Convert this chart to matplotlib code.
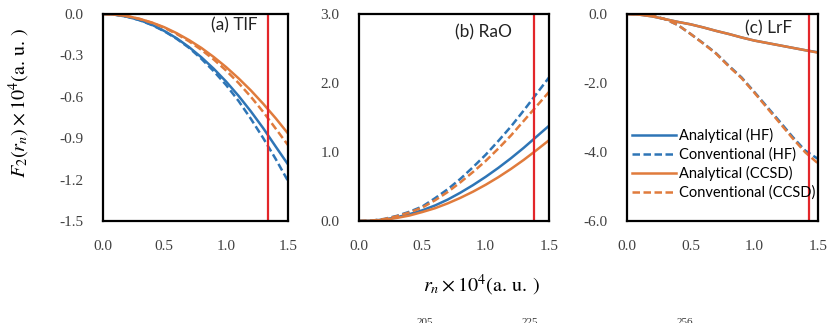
import matplotlib
matplotlib.use("Agg")
import matplotlib.pyplot as plt
from matplotlib.ticker import FuncFormatter, MultipleLocator

plt.rcParams['mathtext.fontset'] = 'stix'
plt.rcParams['axes.unicode_minus'] = False

# ====== Data ======
r = [0.0, 0.1, 0.2, 0.3, 0.4, 0.5, 0.6, 0.7, 0.8, 0.9, 1.0, 1.1, 1.2, 1.3, 1.4, 1.5]

# (a) TlF
tlf_ana_hf = [0, -0.005, -0.02, -0.044, -0.078, -0.123, -0.176, -0.24, -0.314, -0.397,
              -0.49, -0.593, -0.706, -0.828, -0.96, -1.09]
tlf_conv_hf = [0, -0.005, -0.02, -0.045, -0.08, -0.125, -0.18, -0.245, -0.325, -0.415,
               -0.515, -0.63, -0.76, -0.9, -1.05, -1.21]
tlf_ana_ccsd = [0, -0.004, -0.015, -0.035, -0.062, -0.096, -0.139, -0.189, -0.246, -0.312,
                -0.385, -0.466, -0.554, -0.651, -0.755, -0.866]
tlf_conv_ccsd = [0, -0.004, -0.016, -0.036, -0.064, -0.1, -0.145, -0.198, -0.26, -0.33,
                 -0.41, -0.5, -0.6, -0.71, -0.83, -0.95]

# (b) RaO
rao_ana_hf = [0, 0.004, 0.022, 0.055, 0.10, 0.155, 0.225, 0.31, 0.41, 0.52,
              0.64, 0.77, 0.91, 1.06, 1.22, 1.38]
rao_conv_hf = [0, 0.005, 0.03, 0.075, 0.135, 0.21, 0.33, 0.46, 0.61, 0.78,
               0.96, 1.16, 1.37, 1.60, 1.84, 2.08]
rao_ana_ccsd = [0, 0.003, 0.018, 0.045, 0.08, 0.13, 0.185, 0.255, 0.335, 0.425,
                0.525, 0.635, 0.755, 0.885, 1.025, 1.17]
rao_conv_ccsd = [0, 0.005, 0.028, 0.07, 0.125, 0.195, 0.30, 0.42, 0.56, 0.71,
                 0.87, 1.05, 1.24, 1.45, 1.66, 1.87]

# (c) LrF
lrf_ana_hf = [0, -0.02, -0.07, -0.15, -0.23, -0.30, -0.39, -0.49, -0.58, -0.68,
              -0.77, -0.84, -0.91, -0.98, -1.05, -1.11]
lrf_conv_hf = [0, -0.01, -0.05, -0.15, -0.32, -0.58, -0.85, -1.14, -1.50, -1.84,
               -2.26, -2.69, -3.12, -3.56, -3.96, -4.20]
lrf_ana_ccsd = [0, -0.02, -0.07, -0.15, -0.23, -0.30, -0.39, -0.49, -0.58, -0.68,
                -0.77, -0.84, -0.91, -0.98, -1.05, -1.12]
lrf_conv_ccsd = [0, -0.01, -0.05, -0.15, -0.32, -0.58, -0.86, -1.15, -1.52, -1.86,
                 -2.28, -2.72, -3.16, -3.60, -4.01, -4.33]

nuclear_radius = [1.34, 1.38, 1.43]
panel_titles = ['(a) TlF', '(b) RaO', '(c) LrF']
ylims = [(-1.5, 0.0), (0.0, 3.0), (-6.0, 0.0)]
ysteps = [0.3, 1.0, 2.0]
series_labels = ['Analytical (HF)', 'Conventional (HF)', 'Analytical (CCSD)', 'Conventional (CCSD)']
caption_bits = ['205', '225', '256']

panels = [
    [tlf_ana_hf, tlf_conv_hf, tlf_ana_ccsd, tlf_conv_ccsd],
    [rao_ana_hf, rao_conv_hf, rao_ana_ccsd, rao_conv_ccsd],
    [lrf_ana_hf, lrf_conv_hf, lrf_ana_ccsd, lrf_conv_ccsd],
]

# ====== Style ======
BLUE = '#2E75B6'
ORANGE = '#E07B3C'
RED = '#E3262A'
styles = [(BLUE, '-'), (BLUE, '--'), (ORANGE, '-'), (ORANGE, '--')]

W, H = 839, 323
fig = plt.figure(figsize=(W / 100, H / 100), dpi=100)

# axes boxes in pixels: left, right, top, bottom
boxes = [(102.5, 288, 14, 221), (359, 549, 14, 221), (627, 818, 14, 221)]
title_pos = [(0.833, 0.947), (0.805, 0.91), (0.864, 0.93)]


def fmt(v, pos):
    if abs(v) < 1e-9:
        v = 0.0
    return '%.1f' % v


for i, (l, rgt, t, b) in enumerate(boxes):
    ax = fig.add_axes([l / W, 1 - b / H, (rgt - l) / W, (b - t) / H])
    for ys, (c, ls), lab in zip(panels[i], styles, series_labels):
        ax.plot(r, ys, color=c, linestyle=ls, lw=1.8, label=lab,
                dashes=(3, 1.4) if ls == '--' else (None, None))
    ax.axvline(nuclear_radius[i], color=RED, lw=1.6)
    ax.set_xlim(0, 1.5)
    ax.set_ylim(*ylims[i])
    ax.xaxis.set_major_locator(MultipleLocator(0.5))
    ax.yaxis.set_major_locator(MultipleLocator(ysteps[i]))
    ax.xaxis.set_major_formatter(FuncFormatter(fmt))
    ax.yaxis.set_major_formatter(FuncFormatter(fmt))
    ax.tick_params(axis='x', length=0, pad=13.5)
    ax.tick_params(axis='y', length=0, pad=14)
    for lbl in ax.get_xticklabels() + ax.get_yticklabels():
        lbl.set_fontfamily('Liberation Serif')
        lbl.set_fontsize(11)
        lbl.set_color('#404040')
    for sp in ax.spines.values():
        sp.set_linewidth(1.6)
        sp.set_color('black')
    tx, ty = title_pos[i]
    ax.text(tx, ty, panel_titles[i], transform=ax.transAxes, ha='right', va='center',
            fontfamily='Lato', fontsize=12.5, color='#222222')
    if i == 2:
        ax.legend(loc='center left', bbox_to_anchor=(0.026, 0.275), frameon=False,
                  prop={'family': 'Lato', 'size': 10.5}, handlelength=3.0,
                  handletextpad=0.2, labelspacing=0.3, borderpad=0, borderaxespad=0)

fig.text(19 / W, 1 - 103 / H, r'$F_2(r_n)\times 10^4(\mathrm{a.\,u.\,})$', rotation=90,
         ha='center', va='center', fontsize=14.5)
fig.text(482 / W, 1 - 285 / H, r'$r_n\times 10^4(\mathrm{a.\,u.\,})$',
         ha='center', va='center', fontsize=14.5)

# caption superscripts cut by the bottom edge, as in the source image
for x, s in zip([425, 530, 685], caption_bits):
    fig.text(x / W, 1 - 318 / H, s, ha='center', va='top', fontsize=8,
             fontfamily='Liberation Serif', color='#333333')

fig.savefig('out.png', dpi=100)
